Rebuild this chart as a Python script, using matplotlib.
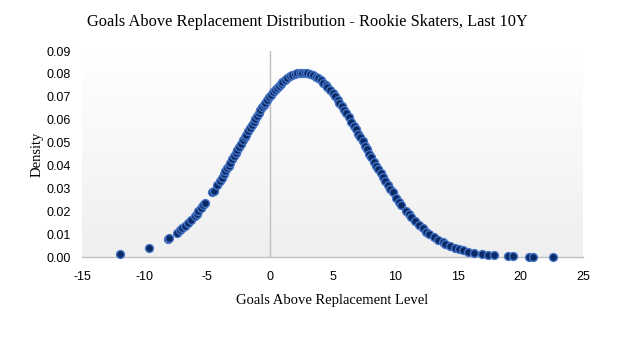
import numpy as np
import matplotlib
matplotlib.use("Agg")
import matplotlib.pyplot as plt
from matplotlib.colors import LinearSegmentedColormap

# Data
gar = [-11.97, -9.65, -8.14, -8.05, -7.42, -7.15, -7.0, -6.75, -6.5, -6.3,
       -6.0, -5.85, -5.7, -5.5, -5.3, -5.2, -4.6, -4.5, -4.2, -4.0,
       -3.85, -3.7, -3.55, -3.4, -3.3, -3.15, -3.0, -2.85, -2.7, -2.6,
       -2.45, -2.3, -2.15, -2.0, -1.9, -1.75, -1.6, -1.45, -1.3, -1.2,
       -1.05, -0.9, -0.75, -0.6, -0.5, -0.35, -0.2, -0.05, 0.1, 0.25,
       0.4, 0.55, 0.7, 0.85, 1.0, 1.2, 1.4, 1.6, 1.8, 2.0,
       2.2, 2.4, 2.6, 2.8, 3.0, 3.2, 3.45, 3.65, 3.85, 4.05,
       4.25, 4.45, 4.6, 4.8, 5.0, 5.2, 5.4, 5.55, 5.75, 5.95,
       6.1, 6.3, 6.5, 6.7, 6.85, 7.05, 7.2, 7.4, 7.6, 7.75,
       7.95, 8.1, 8.3, 8.5, 8.65, 8.85, 9.0, 9.2, 9.4, 9.6,
       9.8, 10.1, 10.3, 10.5, 10.9, 11.1, 11.3, 11.6, 11.9, 12.2,
       12.5, 12.7, 13.1, 13.4, 13.8, 14.0, 14.4, 14.8, 15.1, 15.4,
       15.8, 16.3, 16.9, 17.4, 17.9, 19.0, 19.4, 20.7, 21.0, 22.6]

density = [0.00110, 0.00386, 0.00779, 0.00811, 0.01055, 0.01175, 0.01246, 0.01372, 0.01506, 0.01620,
           0.01802, 0.01898, 0.01996, 0.02133, 0.02277, 0.02349, 0.02819, 0.02903, 0.03157, 0.03333,
           0.03468, 0.03605, 0.03744, 0.03884, 0.03979, 0.04122, 0.04267, 0.04412, 0.04559, 0.04657,
           0.04804, 0.04952, 0.05099, 0.05245, 0.05343, 0.05488, 0.05633, 0.05776, 0.05917, 0.06010,
           0.06147, 0.06282, 0.06414, 0.06543, 0.06627, 0.06750, 0.06869, 0.06983, 0.07094, 0.07198,
           0.07299, 0.07393, 0.07482, 0.07566, 0.07643, 0.07737, 0.07819, 0.07889, 0.07946, 0.07991,
           0.08024, 0.08043, 0.08050, 0.08043, 0.08024, 0.07991, 0.07933, 0.07872, 0.07800, 0.07714,
           0.07618, 0.07511, 0.07424, 0.07299, 0.07164, 0.07020, 0.06869, 0.06750, 0.06585, 0.06414,
           0.06282, 0.06102, 0.05917, 0.05728, 0.05585, 0.05392, 0.05245, 0.05050, 0.04853, 0.04706,
           0.04510, 0.04364, 0.04171, 0.03979, 0.03837, 0.03651, 0.03513, 0.03333, 0.03157, 0.02986,
           0.02819, 0.02578, 0.02424, 0.02277, 0.01996, 0.01865, 0.01739, 0.01562, 0.01397, 0.01246,
           0.01107, 0.01021, 0.00864, 0.00759, 0.00635, 0.00580, 0.00480, 0.00395, 0.00340, 0.00292,
           0.00237, 0.00180, 0.00128, 0.00096, 0.00070, 0.00035, 0.00027, 0.00011, 0.00009, 0.00002]

x_ticks = [-15, -10, -5, 0, 5, 10, 15, 20, 25]
y_ticks = [0.00, 0.01, 0.02, 0.03, 0.04, 0.05, 0.06, 0.07, 0.08, 0.09]

title = "Goals Above Replacement Distribution - Rookie Skaters, Last 10Y"
xlabel = "Goals Above Replacement Level"
ylabel = "Density"

serif = ["Liberation Serif", "DejaVu Serif"]
sans = ["Liberation Sans", "DejaVu Sans"]

fig = plt.figure(figsize=(6.27, 3.43), dpi=100)
fig.patch.set_facecolor("white")
ax = fig.add_axes([82 / 627, 86 / 343, 501 / 627, 206 / 343])

# gradient background: light grey at bottom, white at top
grad = np.linspace(0.0, 1.0, 256).reshape(-1, 1)
cmap = LinearSegmentedColormap.from_list("bg", ["#efefef", "#ffffff"])
ax.imshow(grad, extent=[-15, 25, 0, 0.09], aspect="auto", cmap=cmap,
          origin="lower", zorder=0, vmin=0, vmax=1)

ax.axvline(0, color="#bfbfbf", lw=1.0, zorder=1)

ax.scatter(gar, density, s=32, facecolor="#0a2a66", edgecolor="#4472c4",
           linewidths=1.0, zorder=3, clip_on=False)

ax.set_xlim(-15, 25)
ax.set_ylim(0, 0.09)
ax.set_xticks(x_ticks)
ax.set_yticks(y_ticks)
ax.set_xticklabels([str(t) for t in x_ticks], family=sans, fontsize=9)
ax.set_yticklabels([f"{t:.2f}" for t in y_ticks], family=sans, fontsize=9)
ax.tick_params(axis="x", length=0, pad=10)
ax.tick_params(axis="y", length=0, pad=8)

for s in ["left", "right", "top"]:
    ax.spines[s].set_visible(False)
ax.spines["bottom"].set_color("#bfbfbf")
ax.spines["bottom"].set_linewidth(1.0)

ax.set_xlabel(xlabel, family=serif, fontsize=10.5, labelpad=8)
ax.set_ylabel(ylabel, family=serif, fontsize=10.5, labelpad=2)

fig.text(307 / 627, 1 - 22 / 343, title, ha="center", va="center",
         family=serif, fontsize=11.8)

fig.savefig("out.png", dpi=100, facecolor="white")
